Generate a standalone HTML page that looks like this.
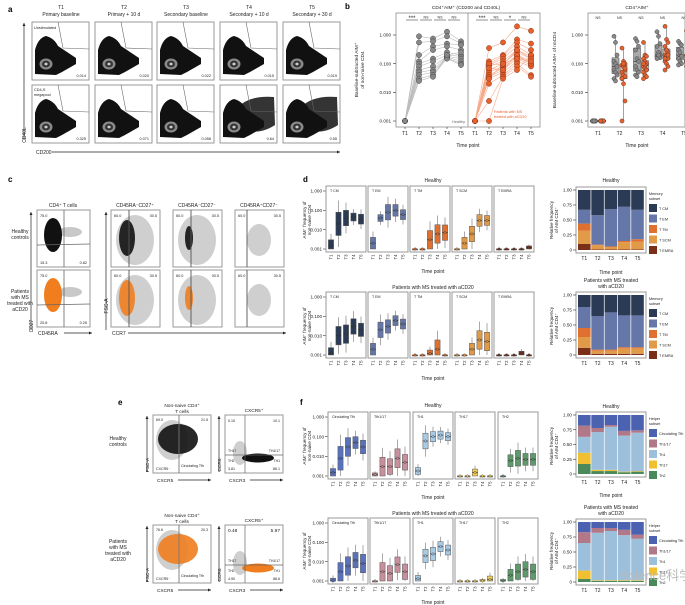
<!DOCTYPE html>
<html><head><meta charset="utf-8"><style>
html,body{margin:0;padding:0;background:#fff}
svg{display:block;font-family:"Liberation Sans",sans-serif}
</style></head><body>
<svg id="fig" width="685" height="605" viewBox="0 0 685 605" xmlns="http://www.w3.org/2000/svg"></svg>
<script>
// ---------- DATA ----------
const timePoints=["T1","T2","T3","T4","T5"];
const aFreqRow1=["0.014","0.020","0.022","0.015","0.019"];
const aFreqRow2=["0.325","0.071","0.058","0.64","0.55"];
const healthyT1=[0.001,0.001,0.001,0.001,0.001,0.001,0.001,0.001,0.001,0.001,0.001];
const healthyT2=[0.9,0.55,0.2,0.12,0.1,0.08,0.06,0.05,0.04,0.03,0.025];
const healthyT3=[0.75,0.6,0.4,0.3,0.15,0.12,0.08,0.06,0.05,0.04,0.035];
const healthyT4=[1.3,0.9,0.5,0.4,0.25,0.2,0.18,0.17,0.16,0.15,0.2];
const healthyT5=[0.6,0.5,0.45,0.3,0.2,0.18,0.15,0.12,0.1,0.09,0.25];
const msT1=[0.001,0.001,0.001,0.001,0.001,0.001,0.001,0.001,0.001,0.001,0.001,0.001,0.001,0.001,0.001,0.001];
const msT2=[0.35,0.12,0.1,0.09,0.08,0.06,0.05,0.04,0.035,0.03,0.02,0.005,0.001,0.1,0.07,0.03];
const msT3=[0.55,0.2,0.18,0.15,0.12,0.1,0.08,0.07,0.06,0.05,0.04,0.035,0.03,0.09,0.06,0.1];
const msT4=[2.0,0.7,0.55,0.4,0.3,0.25,0.2,0.18,0.15,0.12,0.1,0.08,0.06,0.3,0.2,0.15];
const msT5=[1.4,0.5,0.3,0.2,0.18,0.15,0.12,0.1,0.09,0.08,0.04,0.035,0.2,0.15,0.1,0.12];
const sigHealthy=["***","NS","NS","NS"];
const sigMS=["***","NS","*","NS"];
const logTicks=[1,0.1,0.01,0.001];
const logTickLabels=["1.000","0.100","0.010","0.001"];
const dSubsets=["CM","EM","TM","SCM","EMRA"];
const dHealthyMed=[[0.0015,0.02,0.04,0.045,0.035],[0.002,0.04,0.08,0.1,0.06],[0.001,0.001,0.003,0.006,0.007],[0.001,0.002,0.006,0.03,0.03],[0.001,0.001,0.001,0.001,0.0012]];
const dMSMed=[[0.0012,0.01,0.012,0.03,0.02],[0.002,0.02,0.03,0.06,0.04],[0.001,0.001,0.0012,0.002,0.001],[0.001,0.001,0.002,0.006,0.005],[0.001,0.001,0.001,0.0012,0.001]];
const dHealthySpread=[[2,4,2.5,1.6,1.8],[2,1.5,2.5,2,1.8],[1,1,3,3,2.5],[1,2,2.5,2,1.8],[1,1,1,1,1.2]];
const dMSSpread=[[2,3,3,2.5,2.2],[2,2.5,2.2,1.8,1.8],[1,1,1.5,3,1],[1,1,2,3,3],[1,1,1,1.3,1]];
const fSubsets=["Circulating Tfh","Th1/17","Th1","Th17","Th2"];
const fHealthyMed=[[0.0015,0.008,0.03,0.05,0.03],[0.0012,0.003,0.003,0.008,0.005],[0.0018,0.06,0.1,0.12,0.1],[0.001,0.001,0.0015,0.001,0.001],[0.001,0.006,0.008,0.007,0.007]];
const fMSMed=[[0.001,0.003,0.006,0.012,0.008],[0.001,0.003,0.0025,0.007,0.003],[0.0013,0.02,0.025,0.06,0.04],[0.001,0.001,0.001,0.001,0.0012],[0.001,0.002,0.003,0.004,0.003]];
const fHealthySpread=[[1.6,4,3,2,2.2],[1.2,3,2.5,3,2.5],[1.5,2.5,1.8,1.6,1.6],[1,1,1.5,1,1],[1,2,2.5,2,2]];
const fMSSpread=[[1.4,3,3,2.5,3],[1,3,2.5,2.5,2.5],[1.5,2.2,2.2,1.8,1.8],[1,1,1,1.2,1.5],[1.2,2,2.5,2.5,2.5]];
const dHealthyStack=[[0.10,0.22,0.12,0.23,0.33],[0.01,0.07,0.01,0.49,0.42],[0.01,0.04,0.01,0.62,0.32],[0.01,0.12,0.02,0.57,0.28],[0.01,0.13,0.04,0.49,0.33]];
const dMSStack=[[0.12,0.18,0.15,0.35,0.20],[0.02,0.05,0.02,0.56,0.35],[0.02,0.05,0.02,0.62,0.29],[0.02,0.09,0.02,0.53,0.34],[0.02,0.09,0.02,0.53,0.34]];
const fHealthyStack=[[0.17,0.19,0.27,0.19,0.18],[0.05,0.02,0.64,0.07,0.22],[0.05,0.02,0.73,0.03,0.17],[0.03,0.01,0.61,0.08,0.27],[0.04,0.01,0.65,0.04,0.26]];
const fMSStack=[[0.05,0.14,0.46,0.18,0.17],[0.02,0.01,0.79,0.08,0.10],[0.02,0.01,0.82,0.05,0.10],[0.02,0.01,0.75,0.09,0.13],[0.02,0.01,0.69,0.07,0.21]];
const stackTicks=[1,0.75,0.5,0.25,0];
const stackTickLabels=["1.00","0.75","0.50","0.25","0"];
const dColors=["#7a3018","#e09a48","#e07030","#6577a8","#2b3b55"];
const dLegend=["T CM","T EM","T TM","T SCM","T EMRA"];
const fColors=["#4a8a5a","#f0c030","#9cc0dc","#b07888","#4a62b0"];
const fLegend=["Circulating Tfh","Th1/17","Th1","Th17","Th2"];

// ---------- HELPERS ----------
const NS="http://www.w3.org/2000/svg";
const svg=document.getElementById('fig');
function mk(tag,attrs,parent){const e=document.createElementNS(NS,tag);for(const k in attrs)e.setAttribute(k,attrs[k]);(parent||svg).appendChild(e);return e;}
function T(x,y,s,size,anchor,name,rot,fill,weight){
  const a={x:x,y:y,'font-size':size||5,'text-anchor':anchor||'middle',fill:fill||'#222'};
  if(rot)a.transform='rotate('+rot+' '+x+' '+y+')';
  if(weight)a['font-weight']=weight;
  const e=mk('text',a);e.textContent=s;
  
  
  return e;}
function R(x,y,w,h,name,fill,stroke,sw){const e=mk('rect',{x:x,y:y,width:w,height:h,fill:fill||'#fff',stroke:stroke||'#999','stroke-width':sw||1});
  
  return e;}
function L(x1,y1,x2,y2,name,stroke,sw){const e=mk('line',{x1:x1,y1:y1,x2:x2,y2:y2,stroke:stroke||'#333','stroke-width':sw||0.6});
  
  return e;}
function arrowX(x1,x2,y,name){L(x1,y,x2,y,name,'#222',0.7);const p=mk('path',{d:`M${x2},${y} l-3,-1.5 v3 z`,fill:'#222'});}
function arrowY(x,y1,y2,name){L(x,y1,x,y2,name,'#222',0.7);const p=mk('path',{d:`M${x},${y2} l-1.5,3 h3 z`,fill:'#222'});}
function blob(cx,cy,rx,ry,fill,name,op){const e=mk('ellipse',{cx:cx,cy:cy,rx:rx,ry:ry,fill:fill,opacity:op||1});return e;}
function logY(top,bottom){return v=>bottom-(Math.log10(v)+3)/3*(bottom-top);}
function quant(arr,q){const s=[...arr].sort((a,b)=>a-b);const p=(s.length-1)*q;const lo=Math.floor(p),hi=Math.ceil(p);return s[lo]+(s[hi]-s[lo])*(p-lo);}

// ---------- PANEL A ----------
T(8,12,"a",8,'start','panel-a-label',0,'#000','bold');
const aTitles1=["T1","T2","T3","T4","T5"];
const aTitles2=["Primary baseline","Primary + 10 d","Secondary baseline","Secondary + 10 d","Secondary + 30 d"];
const aX=[32,95,157,220,283];
aX.forEach((x,i)=>{
  T(x+29,9,aTitles1[i],5,'middle','a-col-title-'+i);
  T(x+29,16,aTitles2[i],5,'middle','a-col-subtitle-'+i);
  [22,85].forEach((y,r)=>{
    R(x,y,57,58,'a-flow-plot-'+r+'-'+i,'#fff','#999',1);
    const heavy=(r===1&&i>=3);
    if(heavy){const h=mk('path',{d:`M${x+18},${y+22} Q${x+30},${y+10} ${x+54},${y+12} L${x+55},${y+40} Q${x+40},${y+50} ${x+25},${y+45} z`,fill:'#111',opacity:0.85});
      }
    const p=mk('path',{d:`M${x+3},${y+52} L${x+3},${y+28} Q${x+6},${y+16} ${x+14},${y+14} Q${x+22},${y+16} ${x+26},${y+24} L${x+44},${y+36} L${x+44},${y+42} L${x+30},${y+50} L${x+24},${y+53} z`,fill:'#111'});
    
    
    blob(x+14,y+42,6.5,5.5,'#8a8a8a','a-density-contour');
    blob(x+14,y+42,4,3.4,'#333','a-density-ring');
    blob(x+14,y+42,1.6,1.4,'#ccc','a-density-core');
    const g=mk('path',{d:`M${x+26},${y} L${x+31},${y+26} L${x+57},${y+27}`,fill:'none',stroke:'#666','stroke-width':0.6});
    
    
    T(x+54,y+55,(r===0?aFreqRow1:aFreqRow2)[i],3.8,'end','a-frequency');
  });
});
T(34,29,"Unstimulated",3.8,'start','a-unstim-label');
T(34,91,"CD4-S",3.8,'start','a-cd4s-label');T(34,96,"megapool",3.8,'start','a-megapool-label');
arrowY(24,140,23,'a-y-axis-arrow');T(26,135,"CD40L",5,'middle','a-y-axis-title',-90);
arrowX(52,340,152,'a-x-axis-arrow');T(36,154,"CD200",5,'start','a-x-axis-title');

// ---------- PANEL B ----------
T(345,9,"b",8,'start','panel-b-label',0,'#000','bold');
T(466,9,"CD4⁺AIM⁺ (CD200 and CD40L)",4.8,'middle','b-left-title');
const yb=logY(35,121);
R(396,13,144,114,'b-left-plot-frame','#fff','#999',0.9);
L(468,13,468,127,'b-panel-divider','#999',0.9);
logTicks.forEach((t,i)=>{L(393,yb(t),396,yb(t),'b-y-tick');T(391,yb(t)+1.6,logTickLabels[i],4.6,'end','b-y-tick-label');});
T(358,70,"Baseline-subtracted AIM⁺",4.8,'middle','b-y-axis-title',-90);
T(364,70,"of non-naive CD4",4.8,'middle','b-y-axis-title-2',-90);
function lineGroup(data,x0,lineCol,fillCol,strokeCol,prefix){
  const xs=timePoints.map((_,i)=>x0+i*14);
  const n=data[0].length;
  for(let k=0;k<n;k++){
    const d=data.map((arr,i)=>`${i?'L':'M'}${xs[i]},${yb(arr[k])}`).join(' ');
    const p=mk('path',{d:d,fill:'none',stroke:lineCol,'stroke-width':0.6});
    
    
  }
  data.forEach((arr,i)=>arr.forEach(v=>{const c=mk('circle',{cx:xs[i],cy:yb(v),r:2.6,fill:fillCol,stroke:strokeCol,'stroke-width':0.5});
    
    }));
  xs.forEach((x,i)=>{T(x,135,timePoints[i],5,'middle',prefix+'-x-tick-label');L(x,127,x,129,prefix+'-x-tick');});
  return xs;
}
const hx=lineGroup([healthyT1,healthyT2,healthyT3,healthyT4,healthyT5],405,'#bbb','#888','#444','b-healthy');
const mx=lineGroup([msT1,msT2,msT3,msT4,msT5],475,'#f6a888','#e8602c','#8a3010','b-ms');
function sig(xs,labels,prefix){labels.forEach((s,i)=>{L(xs[i]+1,20,xs[i+1]-1,20,prefix+'-sig-bar','#222',0.5);T((xs[i]+xs[i+1])/2,s.includes('*')?20:18.5,s,s.includes('*')?6:3.6,'middle',prefix+'-sig-label');});}
sig(hx,sigHealthy,'b-healthy');sig(mx,sigMS,'b-ms');
T(465,123,"Healthy",3.8,'end','b-healthy-label',0,'#666');
T(494,113,"Patients with MS",3.8,'start','b-ms-label',0,'#e8602c');
T(494,118,"treated with aCD20",3.8,'start','b-ms-label-2',0,'#e8602c');
T(468,147,"Time point",5,'middle','b-x-axis-title');
T(637,9,"CD4⁺AIM⁺",4.8,'middle','b-right-title');
R(588,13,97,114,'b-right-plot-frame','#fff','#999',0.9);
logTicks.forEach((t,i)=>{L(585,yb(t),588,yb(t),'b-right-y-tick');T(583,yb(t)+1.6,logTickLabels[i],4.6,'end','b-right-y-tick-label');});
T(556,70,"Baseline-subtracted AIM+ of nnCD4",4.8,'middle','b-right-y-axis-title',-90);
const hAll=[healthyT1,healthyT2,healthyT3,healthyT4,healthyT5],mAll=[msT1,msT2,msT3,msT4,msT5];
timePoints.forEach((tp,i)=>{
  const xc=598+i*21.5;
  T(xc,19,"NS",3.6,'middle','b-right-sig-label');
  [[hAll[i],xc-4,'#aaa','#888','healthy'],[mAll[i],xc+4,'#f3b8a0','#e8602c','ms']].forEach(([arr,x,bf,pf,nm])=>{
    const q1=quant(arr,0.25),q2=quant(arr,0.5),q3=quant(arr,0.75);
    L(x,yb(Math.max(...arr)),x,yb(Math.min(...arr)),'b-right-whisker-'+nm,'#444',0.5);
    R(x-3.5,yb(q3),7,Math.max(0.8,yb(q1)-yb(q3)),'b-right-box-'+nm,bf,'#444',0.5);
    L(x-3.5,yb(q2),x+3.5,yb(q2),'b-right-median-'+nm,'#222',0.6);
    arr.forEach((v,k)=>{const c=mk('circle',{cx:x+((k%3)-1)*1.5,cy:yb(v),r:2.1,fill:pf,stroke:'#333','stroke-width':0.4});
      
      });
  });
  T(xc,135,tp,5,'middle','b-right-x-tick-label');
});
T(637,147,"Time point",5,'middle','b-right-x-axis-title');

// ---------- PANEL C ----------
T(8,182,"c",8,'start','panel-c-label',0,'#000','bold');
T(63,207,"CD4⁺ T cells",5,'middle','c-cd4-title');
const cTitles=["CD45RA⁻CD27⁺","CD45RA⁻CD27⁻","CD45RA⁺CD27⁻"];
const cX=[111,173,235];
cTitles.forEach((s,i)=>T(cX[i]+24,207,s,5,'middle','c-subset-title'));
T(20,233,"Healthy",5,'middle','c-row-label-healthy');T(20,239,"controls",5,'middle','c-row-label-healthy-2');
T(20,293,"Patients",5,'middle','c-row-label-ms');T(20,299,"with MS",5,'middle','c-row-label-ms-2');T(20,305,"treated with",5,'middle','c-row-label-ms-3');T(20,311,"aCD20",5,'middle','c-row-label-ms-4');
[[210,'#111','healthy'],[270,'#f07d1e','ms']].forEach(([y,col,nm],r)=>{
  R(37,y,53,57,'c-cd4-plot-'+nm,'#fff','#999',1);
  blob(70,y+22,12,5,'#c8c8c8','c-gray-cells');
  blob(53,y+25,9,17,col,'c-aim-cells');
  L(64,y,64,y+57,'c-gate-v','#666',0.8);L(37,y+35,90,y+34,'c-gate-h','#666',0.8);
  T(40,y+7,"75.0",3.8,'start','c-quad-label');T(40,y+54,r?"20.8":"15.3",3.8,'start','c-quad-label');T(87,y+54,r?"0.25":"0.82",3.8,'end','c-quad-label');
  cX.forEach((x,i)=>{
    R(x,y,49,57,'c-subset-plot-'+i+'-'+nm,'#fff','#999',1);
    blob(x+24,y+30,i===2?12:19,i===2?16:25,'#cfcfcf','c-gray-cells');
    if(i<2)blob(x+16,y+28,i?4:8,i?12:18,col,'c-aim-cells',0.9);
    L(x+(i===2?12:18),y,x+(i===2?12:18),y+57,'c-ccr7-gate','#555',0.9);
    T(x+3,y+7,"60.0",3.8,'start','c-quad-label');T(x+46,y+7,"30.5",3.8,'end','c-quad-label');
  });
});
arrowY(31,330,212,'c-y-axis-arrow');T(33,326,"CD27",5,'middle','c-y-axis-title',-90);
arrowX(64,92,333,'c-x-axis-arrow');T(38,335,"CD45RA",5,'start','c-x-axis-title');
arrowY(106,330,212,'c-fsc-axis-arrow');T(108,306,"FSC-A",5,'middle','c-fsc-axis-title',-90);
arrowX(128,286,333,'c-ccr7-axis-arrow');T(112,335,"CCR7",5,'start','c-ccr7-axis-title');

// ---------- BOX PANELS (d, f) ----------
function boxRow(x0s,top,bottom,medArr,sprArr,colors,labels,prefix){
  const y=logY(top+5,bottom-3);
  logTicks.forEach((t,i)=>{L(x0s[0]-3,y(t),x0s[0],y(t),prefix+'-y-tick');T(x0s[0]-4,y(t)+1.6,logTickLabels[i],4.6,'end',prefix+'-y-tick-label');});
  x0s.forEach((x0,s)=>{
    R(x0,top,40,bottom-top,prefix+'-facet-'+s,'#fff','#999',1);
    T(x0+4,top+6,labels[s],3.6,'start',prefix+'-facet-label');
    medArr[s].forEach((m,i)=>{
      const xc=x0+5+i*7.5,sp=sprArr[s][i];
      const q1=Math.max(0.001,m/sp),q3=m*sp;
      L(xc,y(Math.min(2,q3*sp)),xc,y(Math.max(0.001,q1/sp)),prefix+'-whisker','#555',0.5);
      R(xc-2.6,y(q3),5.2,Math.max(1,y(q1)-y(q3)),prefix+'-box',colors[s],'#555',0.5);
      L(xc-2.6,y(m),xc+2.6,y(m),prefix+'-median','#222',0.6);
      const c=mk('circle',{cx:xc,cy:y(m),r:1.2,fill:colors[s],stroke:'#333','stroke-width':0.4});
      
      
      T(xc+1.5,bottom+5,timePoints[i],4.3,'middle',prefix+'-x-tick-label',-90);
    });
  });
}
function stackBar(x0,top,bottom,fracs,colors,prefix){
  const ys=v=>bottom-3-v*(bottom-top-6);
  R(x0,top,70,bottom-top,prefix+'-frame','#fff','#999',1);
  stackTicks.forEach((t,i)=>{L(x0-3,ys(t),x0,ys(t),prefix+'-y-tick');T(x0-4,ys(t)+1.6,stackTickLabels[i],4.6,'end',prefix+'-y-tick-label');});
  fracs.forEach((fr,i)=>{
    const bx=x0+2+i*13.3;let acc=0;
    fr.forEach((f,k)=>{R(bx,ys(acc+f),12.6,ys(acc)-ys(acc+f),prefix+'-segment-'+k,colors[k],'none',0);acc+=f;});
    T(bx+6.3,bottom+7,timePoints[i],5,'middle',prefix+'-x-tick-label');
  });
}
function legend(x,y,title,names,colors,prefix){
  T(x,y,title[0],3.8,'start',prefix+'-legend-title');T(x,y+5,title[1],3.8,'start',prefix+'-legend-title-2');
  for(let k=colors.length-1,j=0;k>=0;k--,j++){
    R(x,y+9+j*10.5,8,8,prefix+'-legend-swatch',colors[k],'none',0);
    T(x+10,y+15+j*10.5,names[j],3.8,'start',prefix+'-legend-entry');
  }
}
T(303,182,"d",8,'start','panel-d-label',0,'#000','bold');
const dX=[326,368,410,452,494];
T(433,182,"Healthy",5,'middle','d-healthy-title');
boxRow(dX,186,252,dHealthyMed,dHealthySpread,["#2b3b55","#6577a8","#e07030","#e09a48","#7a3018"],dSubsets.map(s=>"T "+s),'d-healthy');
T(433,273,"Time point",5,'middle','d-x-axis-title');
T(433,289,"Patients with MS treated with aCD20",5,'middle','d-ms-title');
boxRow(dX,292,358,dMSMed,dMSSpread,["#2b3b55","#6577a8","#e07030","#e09a48","#7a3018"],dSubsets.map(s=>"T "+s),'d-ms');
T(433,380,"Time point",5,'middle','d-ms-x-axis-title');
T(306,220,"AIM⁺ frequency of",4.6,'middle','d-y-axis-title',-90);T(311,220,"non-naive CD4",4.6,'middle','d-y-axis-title-2',-90);
T(306,326,"AIM⁺ frequency of",4.6,'middle','d-ms-y-axis-title',-90);T(311,326,"non-naive CD4",4.6,'middle','d-ms-y-axis-title-2',-90);
T(611,182,"Healthy",5,'middle','d-stack-healthy-title');
stackBar(576,187,253,dHealthyStack,dColors,'d-stack-healthy');
T(611,274,"Time point",5,'middle','d-stack-x-axis-title');
T(611,282,"Patients with MS treated",5,'middle','d-stack-ms-title');T(611,288,"with aCD20",5,'middle','d-stack-ms-title-2');
stackBar(576,292,358,dMSStack,dColors,'d-stack-ms');
T(553,220,"Relative frequency",4.6,'middle','d-stack-y-title',-90);T(558,220,"of AIM CD4⁺",4.6,'middle','d-stack-y-title-2',-90);
T(553,326,"Relative frequency",4.6,'middle','d-stack-ms-y-title',-90);T(558,326,"of AIM CD4⁺",4.6,'middle','d-stack-ms-y-title-2',-90);
legend(649,195,["Memory","subset"],dLegend,dColors,'d-healthy');
legend(649,300,["Memory","subset"],dLegend,dColors,'d-ms');

// ---------- PANEL E ----------
T(118,405,"e",8,'start','panel-e-label',0,'#000','bold');
T(118,440,"Healthy",5,'middle','e-row-label-healthy');T(118,446,"controls",5,'middle','e-row-label-healthy-2');
T(118,543,"Patients",5,'middle','e-row-label-ms');T(118,549,"with MS",5,'middle','e-row-label-ms-2');T(118,555,"treated with",5,'middle','e-row-label-ms-3');T(118,561,"aCD20",5,'middle','e-row-label-ms-4');
[[415,'#111','healthy',"Non-naive CD4⁺"],[525,'#f07d1e','ms',"Non-naive CD4⁺"]].forEach(([y,col,nm,ttl])=>{
  T(182,y-8,ttl,4.8,'middle','e-fsc-title');T(182,y-2,"T cells",4.8,'middle','e-fsc-title-2');
  T(254,y-3,"CXCR5⁺",4.8,'middle','e-ccr6-title');
  R(153,y,58,58,'e-fsc-plot-'+nm,'#fff','#999',1);
  blob(172,y+25,16,20,'#cfcfcf','e-gray-cells');
  blob(178,y+24,20,15,col,'e-aim-cells',0.9);
  L(179,y,179,y+58,'e-cxcr5-gate','#777',0.9);
  T(156,y+6,nm==='ms'?"76.6":"69.0",3.6,'start','e-quad-label');T(208,y+6,nm==='ms'?"20.3":"21.5",3.6,'end','e-quad-label');
  T(156,y+55,"CXCR5⁻",3.6,'start','e-gate-label');T(181,y+52,"Circulating Tfh",3.6,'start','e-gate-label-2');
  R(225,y,58,58,'e-ccr6-plot-'+nm,'#fff','#999',1);
  blob(240,y+38,7,12,'#cfcfcf','e-gray-cells');
  blob(258,y+43,16,4.5,col,'e-aim-cells');
  L(245,y,245,y+58,'e-cxcr3-gate','#666',0.7);L(225,y+40,283,y+40,'e-ccr6-gate','#666',0.7);
  T(228,y+7,nm==='ms'?"0.48":"0.10",nm==='ms'?4.8:3.6,'start','e-quad-label');T(280,y+7,nm==='ms'?"5.97":"10.1",nm==='ms'?4.8:3.6,'end','e-quad-label');
  T(228,y+37,"TH17",3.4,'start','e-th17-label');T(280,y+37,"TH1/17",3.4,'end','e-th117-label');
  T(228,y+47,"TH2",3.4,'start','e-th2-label');T(280,y+47,"TH1",3.4,'end','e-th1-label');
  T(228,y+55,nm==='ms'?"4.90":"3.81",3.6,'start','e-quad-label');T(280,y+55,nm==='ms'?"88.6":"86.1",3.6,'end','e-quad-label');
  arrowY(147,y+57,y+1,'e-fsc-arrow');T(149,y+50,"FSC-A",4.8,'middle','e-fsc-axis-title',-90);
  arrowY(219,y+57,y+1,'e-ccr6-arrow');T(221,y+50,"CCR6",4.8,'middle','e-ccr6-axis-title',-90);
  arrowX(178,211,y+65,'e-cxcr5-arrow');T(157,y+67,"CXCR5",4.8,'start','e-cxcr5-axis-title');
  arrowX(250,283,y+65,'e-cxcr3-arrow');T(229,y+67,"CXCR3",4.8,'start','e-cxcr3-axis-title');
});

// ---------- PANEL F ----------
T(300,405,"f",8,'start','panel-f-label',0,'#000','bold');
const fX=[328,370,413,455,498];
const fBoxColors=["#5a72bc","#c88f9c","#a8cbe6","#f5cf55","#5f9a6c"];
T(433,407,"Healthy",5,'middle','f-healthy-title');
boxRow(fX,412,479,fHealthyMed,fHealthySpread,fBoxColors,["Circulating Tfh","Tfh1/17","TH1","TH17","TH2"],'f-healthy');
T(433,499,"Time point",5,'middle','f-x-axis-title');
T(433,515,"Patients with MS treated with aCD20",5,'middle','f-ms-title');
boxRow(fX,518,584,fMSMed,fMSSpread,fBoxColors,["Circulating Tfh","Tfh1/17","TH1","TH17","TH2"],'f-ms');
T(433,604,"Time point",5,'middle','f-ms-x-axis-title');
T(306,446,"AIM⁺ frequency of",4.6,'middle','f-y-axis-title',-90);T(311,446,"non-naive CD4",4.6,'middle','f-y-axis-title-2',-90);
T(306,551,"AIM⁺ frequency of",4.6,'middle','f-ms-y-axis-title',-90);T(311,551,"non-naive CD4",4.6,'middle','f-ms-y-axis-title-2',-90);
T(611,408,"Healthy",5,'middle','f-stack-healthy-title');
stackBar(576,412,477,fHealthyStack,fColors,'f-stack-healthy');
T(611,497,"Time point",5,'middle','f-stack-x-axis-title');
T(611,509,"Patients with MS treated",5,'middle','f-stack-ms-title');T(611,515,"with aCD20",5,'middle','f-stack-ms-title-2');
stackBar(576,519,585,fMSStack,fColors,'f-stack-ms');
T(553,446,"Relative frequency",4.6,'middle','f-stack-y-title',-90);T(558,446,"of AIM CD4⁺",4.6,'middle','f-stack-y-title-2',-90);
T(553,551,"Relative frequency",4.6,'middle','f-stack-ms-y-title',-90);T(558,551,"of AIM CD4⁺",4.6,'middle','f-stack-ms-y-title-2',-90);
legend(649,420,["Helper","subset"],fLegend,fColors,'f-healthy');
legend(649,527,["Helper","subset"],fLegend,fColors,'f-ms');
T(620,580,"Science科学",13,'start','watermark',0,'#bbb');
</script>
</body></html>
